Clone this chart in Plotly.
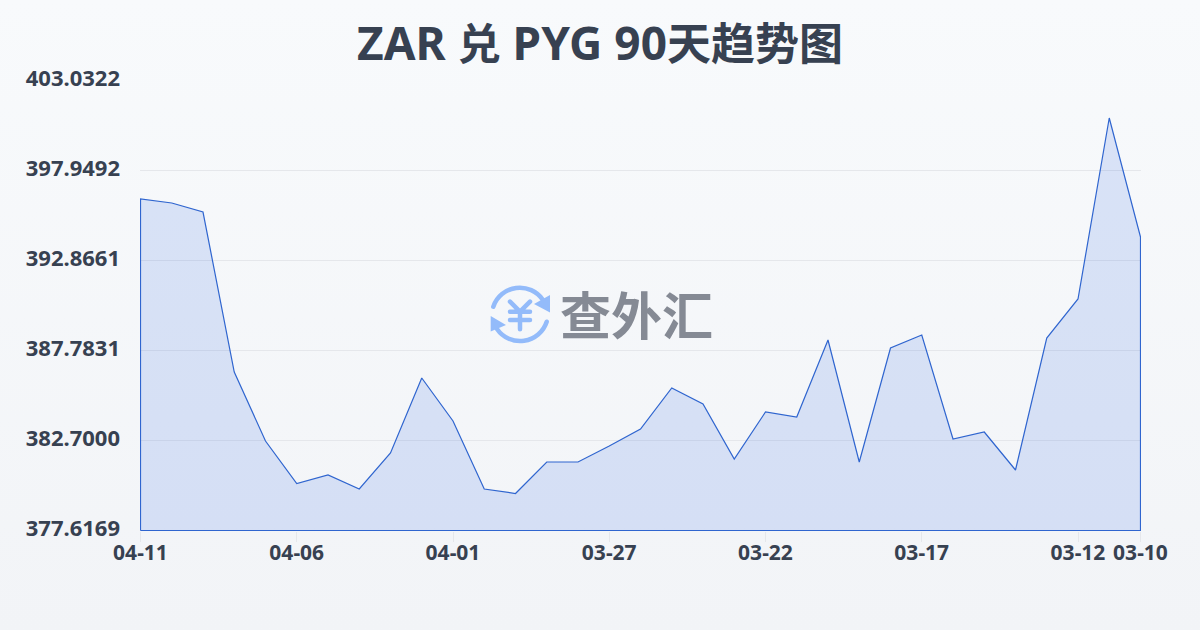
import base64
import plotly.graph_objects as go

dates = ["04-11","04-10","04-09","04-08","04-07","04-06","04-05","04-04","04-03","04-02","04-01",
         "03-31","03-30","03-29","03-28","03-27","03-26","03-25","03-24","03-23","03-22",
         "03-21","03-20","03-19","03-18","03-17","03-16","03-15","03-14","03-13","03-12","03-11","03-10"]
rates = [396.339,396.113,395.605,386.569,382.672,380.271,380.752,379.961,381.994,386.230,383.801,
         379.961,379.707,381.486,381.486,382.389,383.349,385.665,384.761,381.655,384.310,
         384.027,388.376,381.486,387.924,388.658,382.785,383.180,381.034,388.489,390.692,400.914,394.193]
y_ticks = [377.6169,382.7000,387.7831,392.8661,397.9492,403.0322]
y_labels = ["377.6169","382.7000","387.7831","392.8661","397.9492","403.0322"]
x_ticks = ["04-11","04-06","04-01","03-27","03-22","03-17","03-12","03-10"]
watermark = "查外汇"

FONT = "Noto Sans, Noto Sans CJK SC, sans-serif"
INK = "#374151"
ymin = y_ticks[0]

title_html = ('<b><span style="font-size:46px">ZAR </span><span style="font-size:43px">兑</span>'
              '<span style="font-size:46px"> PYG 90</span><span style="font-size:44px">天趋势图</span></b>')

bg_svg = ('<svg xmlns="http://www.w3.org/2000/svg" width="1200" height="630">'
          '<defs><linearGradient id="g" x1="0" y1="0" x2="0" y2="1">'
          '<stop offset="0" stop-color="#f8fafc"/><stop offset="1" stop-color="#f2f4f7"/>'
          '</linearGradient></defs><rect width="1200" height="630" fill="url(#g)"/></svg>')
icon_svg = ('<svg xmlns="http://www.w3.org/2000/svg" viewBox="0 0 60 60" width="60" height="60">'
            '<g fill="none" stroke="#93bbfa" stroke-width="4.5" stroke-linecap="round" stroke-linejoin="round">'
            '<path d="M3.3 21.7 A28 28 0 0 1 53 15"/><path d="M56.7 36.7 A28 28 0 0 1 7 44"/>'
            '<path d="M20 16.7 L30 26.7 L40 16.7 M30 26.7 V44.3 M20 26.7 H40 M20 35 H40"/></g>'
            '<path d="M60 10 L60 27.5 L44 19 Z M0.7 31 L0.7 46.5 L16 40 Z" fill="#93bbfa"/></svg>')

def uri(s):
    return "data:image/svg+xml;base64," + base64.b64encode(s.encode()).decode()

fig = go.Figure()
fig.add_trace(go.Scatter(
    x=[0] + list(range(len(dates))) + [len(dates)-1, 0],
    y=[ymin] + rates + [ymin, ymin],
    mode="lines",
    fill="toself",
    fillcolor="rgba(37,90,225,0.14)",
    line=dict(color="#2f65cf", width=1.2),
    hoverinfo="skip",
    showlegend=False,
))

y_pad = (y_ticks[-1] - y_ticks[0]) / 900
x_pad = 0.016

fig.update_layout(
    width=1200, height=630,
    autosize=False,
    margin=dict(l=140, r=59, t=80, b=99),
    paper_bgcolor="#f6f8fa",
    plot_bgcolor="rgba(0,0,0,0)",
    font=dict(family=FONT, color=INK),
    title=dict(text=title_html, x=0.5, xanchor="center", xref="container",
               y=1-44/630, yanchor="middle", yref="container",
               font=dict(size=46, family=FONT, color=INK)),
    xaxis=dict(range=[-x_pad, len(dates)-1+x_pad], tickmode="array",
               tickvals=[dates.index(d) for d in x_ticks], ticktext=x_ticks,
               showgrid=False, showline=False, zeroline=False,
               ticks="outside", ticklen=10, tickcolor="#e5e7eb", tickwidth=1,
               ticklabelstandoff=-7,
               tickfont=dict(size=21, family=FONT, color=INK, weight=700)),
    yaxis=dict(range=[y_ticks[0]-y_pad, y_ticks[-1]+y_pad], tickmode="array",
               tickvals=y_ticks, ticktext=y_labels,
               showgrid=True, gridcolor="#e5e7eb", gridwidth=1, zeroline=False, showline=False,
               ticks="", ticklabelstandoff=19, ticklabelshift=-2,
               tickfont=dict(size=22, family=FONT, color=INK, weight=700)),
    images=[
        dict(source=uri(bg_svg), xref="paper", yref="paper", x=-140/1001, y=(630-99)/451,
             sizex=1200/1001, sizey=630/451, xanchor="left", yanchor="top", sizing="stretch", layer="below"),
        dict(source=uri(icon_svg), xref="paper", yref="paper", x=(490-140)/1001, y=(531-285)/451,
             sizex=60/1001, sizey=60/451, xanchor="left", yanchor="top", sizing="stretch", layer="above"),
    ],
    annotations=[dict(text=f"<b>{watermark}</b>", xref="paper", yref="paper",
                      x=(636-140)/1001, y=(531-315)/451, xanchor="center", yanchor="middle",
                      showarrow=False, font=dict(size=51, family=FONT, color="#858a94"))],
)

fig.write_html("out.html", config={"displayModeBar": False},
               post_script="document.body.style.margin='0';document.body.style.overflow='hidden';")
